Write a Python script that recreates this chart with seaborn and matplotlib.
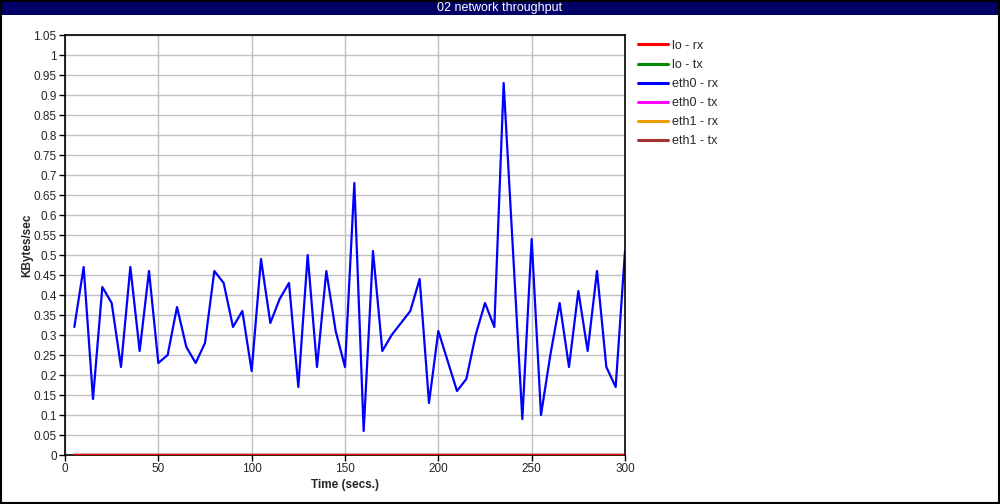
import pandas as pd
import matplotlib
matplotlib.use("Agg")
import matplotlib.pyplot as plt
import seaborn as sns
from matplotlib.patches import Rectangle

# time axis, one sample every 5 secs
secs = list(range(5, 301, 5))

eth0_rx = [0.32, 0.47, 0.14, 0.42, 0.38, 0.22, 0.47, 0.26, 0.46, 0.23,
           0.25, 0.37, 0.27, 0.23, 0.28, 0.46, 0.43, 0.32, 0.36, 0.21,
           0.49, 0.33, 0.39, 0.43, 0.17, 0.50, 0.22, 0.46, 0.31, 0.22,
           0.68, 0.06, 0.51, 0.26, 0.30, 0.33, 0.36, 0.44, 0.13, 0.31,
           0.235, 0.16, 0.19, 0.30, 0.38, 0.32, 0.93, 0.51, 0.09, 0.54,
           0.10, 0.25, 0.38, 0.22, 0.41, 0.26, 0.46, 0.22, 0.17, 0.51]
zeros = [0.0] * len(secs)

series_names = ["lo - rx", "lo - tx", "eth0 - rx", "eth0 - tx", "eth1 - rx", "eth1 - tx"]
series_vals = [zeros, zeros, eth0_rx, zeros, zeros, zeros]
colors = ["#ff0000", "#008a00", "#0000ff", "#ff00ff", "#ee9900", "#a83232"]

y_ticks = [round(i * 0.05, 2) for i in range(22)]
x_ticks = [0, 50, 100, 150, 200, 250, 300]

rows = []
for name, vals in zip(series_names, series_vals):
    for t, v in zip(secs, vals):
        rows.append({"secs": t, "value": v, "series": name})
data = pd.DataFrame(rows)

sns.set_style("white")
plt.rcParams["font.family"] = ["Liberation Sans", "DejaVu Sans"]

fig = plt.figure(figsize=(10, 5.04), dpi=100)
ax = fig.add_axes([0.065, 49 / 504, 0.56, 420 / 504])

sns.lineplot(data=data, x="secs", y="value", hue="series", hue_order=series_names,
             palette=colors, linewidth=1.6, errorbar=None, ax=ax, legend=False)
# lo - rx sits on top of the other flat lines
ax.lines[0].set_zorder(5)

ax.set_xlim(0, 300)
ax.set_ylim(0, 1.05)
ax.set_xticks(x_ticks)
ax.set_yticks(y_ticks)
ax.set_yticklabels([("%g" % v) for v in y_ticks])
ax.grid(True, color="#c0c0c0", linewidth=1)
ax.set_axisbelow(True)
for s in ax.spines.values():
    s.set_color("black")
    s.set_linewidth(1.2)
ax.tick_params(axis="both", direction="out", length=4, width=1, color="black",
               labelsize=8.5, pad=2, left=True, bottom=True)
ax.set_xlabel("Time (secs.)", fontsize=8.5, fontweight="bold", labelpad=2.5)
ax.set_ylabel("KBytes/sec", fontsize=8.5, fontweight="bold", labelpad=0)

handles = [plt.Line2D([], [], color=c, linewidth=2.2) for c in colors]
fig.legend(handles, series_names, loc="upper left", bbox_to_anchor=(0.633, 0.931),
           frameon=False, fontsize=9, handlelength=2.4, handletextpad=0.3,
           labelspacing=0.57, borderaxespad=0)

# title bar and outer frame
fig.patches.append(Rectangle((0, 1 - 15 / 504), 1, 15 / 504, transform=fig.transFigure,
                             facecolor="#000066", edgecolor="none", zorder=0))
fig.text(0.5, 1 - 7.5 / 504, "02 network throughput", color="white", fontsize=9,
         ha="center", va="center")
fig.patches.append(Rectangle((0.0005, 0.001), 0.998, 0.998, transform=fig.transFigure,
                             facecolor="none", edgecolor="black", linewidth=1.5, zorder=10))

plt.savefig("out.png", dpi=100)
